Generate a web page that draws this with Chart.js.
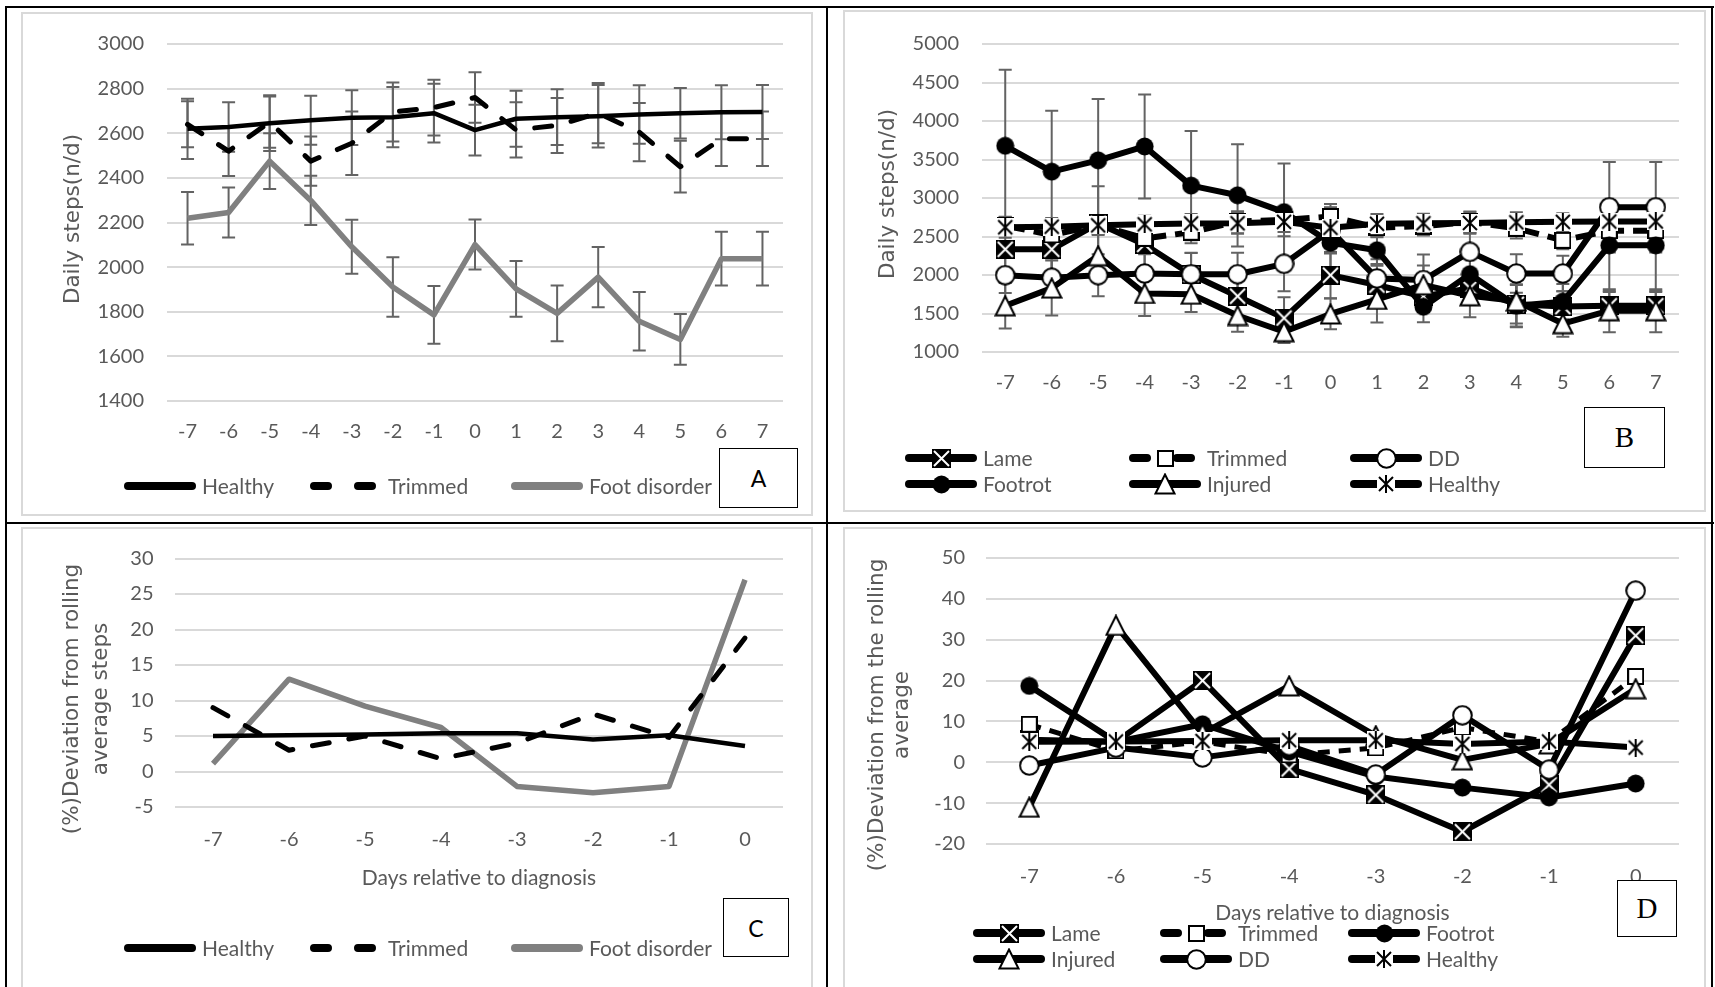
<!DOCTYPE html>
<html>
<head>
<meta charset="utf-8">
<script src="https://cdn.jsdelivr.net/npm/chart.js@4.4.1/dist/chart.umd.min.js"></script>
<style>
  html, body { margin: 0; padding: 0; background: #fff; }
  body { width: 1715px; height: 987px; position: relative; overflow: hidden; }
  .rule { position: absolute; background: #000; }
  .frame { position: absolute; border: 2px solid #d9d9d9; box-sizing: border-box; }
  canvas { position: absolute; }
  .tag { position: absolute; box-sizing: border-box; border: 1.5px solid #000; background: #fff;
         display: flex; align-items: center; justify-content: center; color: #000; }
  .sans { font-family: Lato, sans-serif; font-size: 23px; }
  .serif { font-family: "Liberation Serif", serif; font-size: 29px; }
</style>
</head>
<body>
<div class="frame" style="left:21px;top:12px;width:792px;height:504px"></div>
<div class="frame" style="left:843px;top:10px;width:863px;height:502px"></div>
<div class="frame" style="left:21px;top:527px;width:792px;height:470px"></div>
<div class="frame" style="left:843px;top:527px;width:863px;height:470px"></div>

<canvas id="panelA" width="818" height="513" style="left:8px;top:9px"></canvas>
<canvas id="panelB" width="882" height="513" style="left:829px;top:9px"></canvas>
<canvas id="panelC" width="818" height="460" style="left:8px;top:525px"></canvas>
<canvas id="panelD" width="882" height="460" style="left:829px;top:525px"></canvas>

<div class="rule" style="left:5px;top:6px;width:1709px;height:2px"></div>
<div class="rule" style="left:5px;top:522px;width:1709px;height:2px"></div>
<div class="rule" style="left:5px;top:6px;width:2px;height:981px"></div>
<div class="rule" style="left:826px;top:6px;width:2px;height:981px"></div>
<div class="rule" style="left:1711px;top:6px;width:2px;height:981px"></div>

<div class="tag sans" style="left:719px;top:448px;width:79px;height:60px">A</div>
<div class="tag serif" style="left:1584px;top:407px;width:81px;height:61px">B</div>
<div class="tag sans" style="left:723px;top:898px;width:66px;height:59px">C</div>
<div class="tag serif" style="left:1617px;top:880px;width:60px;height:57px">D</div>

<script>
// days around diagnosis
const dayLabels = ['-7', '-6', '-5', '-4', '-3', '-2', '-1', '0', '1', '2', '3', '4', '5', '6', '7'];
const preLabels = ['-7', '-6', '-5', '-4', '-3', '-2', '-1', '0'];

// daily steps, mean and error
const healthySteps = [2620, 2628, 2645, 2658, 2670, 2672, 2690, 2614, 2665, 2672, 2676, 2684, 2690, 2694, 2695];
const healthyErr = [135, 111, 125, 110, 123, 135, 132, 114, 126, 125, 140, 131, 113, 121, 121];
const trimmedSteps = [2640, 2520, 2650, 2475, 2555, 2695, 2715, 2760, 2615, 2635, 2690, 2605, 2450, 2575, 2575];
const trimmedErr = [103, 112, 115, 110, 142, 132, 125, 113, 124, 123, 135, 131, 116, 122, 122];
const footSteps = [2219, 2245, 2475, 2299, 2091, 1911, 1786, 2101, 1903, 1793, 1955, 1757, 1676, 2038, 2038];
const footErr = [118, 112, 125, 110, 121, 133, 129, 112, 125, 125, 135, 131, 114, 120, 120];

const lameSteps = [2334, 2334, 2670, 2397, 2007, 1725, 1440, 1998, 1870, 1720, 1830, 1620, 1590, 1600, 1600];
const lameErr = [420, 350, 483, 300, 280, 300, 270, 300, 250, 200, 220, 250, 200, 180, 180];
const ddSteps = [1998, 1965, 1998, 2019, 2010, 2010, 2145, 2580, 1956, 1935, 2300, 2019, 2019, 2880, 2880];
const ddErr = [231, 250, 273, 250, 280, 280, 357, 300, 250, 330, 250, 250, 230, 587, 587];
const footrotSteps = [3678, 3342, 3489, 3669, 3161, 3035, 2817, 2418, 2322, 1587, 2011, 1600, 1654, 2385, 2385];
const footrotErr = [986, 790, 797, 674, 710, 664, 630, 503, 180, 200, 240, 280, 230, 588, 588];
const injuredSteps = [1600, 1830, 2250, 1760, 1750, 1474, 1263, 1494, 1683, 1872, 1730, 1662, 1368, 1536, 1536];
const injuredErr = [295, 357, 300, 294, 230, 211, 147, 200, 300, 250, 280, 330, 170, 280, 280];

// % deviation from the rolling average
const healthyDev = [5.0, 5.1, 5.2, 5.4, 5.4, 4.5, 5.1, 3.6];
const trimmedDev = [9.0, 3.0, 5.0, 1.8, 4.0, 8.1, 4.8, 18.8];
const footDev = [1.1, 13.0, 9.2, 6.2, -2.1, -3.0, -2.1, 27.0];

const lameDev = [5.5, 5.0, 20.0, -1.6, -8.0, -17.0, -5.5, 31.0];
const trimmedDevD = [9.3, 2.8, 5.0, 1.8, 3.5, 8.5, 5.0, 21.0];
const footrotDev = [18.7, 5.0, 9.3, 2.6, -3.5, -6.2, -8.6, -5.2];
const injuredDev = [-11.0, 33.5, 7.0, 18.7, 6.5, 0.6, 4.5, 18.0];
const ddDev = [-0.8, 3.6, 1.2, 4.0, -3.0, 11.5, -1.8, 42.0];

const GREY_TEXT = '#595959';

function marker(kind) {
  const sizes = { lame: 19, trimmed: 17, dd: 21, footrot: 19, injured: 22, healthy: 18 };
  const s = sizes[kind];
  const c = document.createElement('canvas');
  c.width = s; c.height = s;
  const g = c.getContext('2d');
  const m = s / 2;
  g.lineWidth = 2;
  g.strokeStyle = '#000';
  g.fillStyle = '#fff';
  if (kind === 'lame') {
    g.fillStyle = '#000';
    g.fillRect(0, 0, s, s);
    g.strokeStyle = '#fff';
    g.beginPath();
    g.moveTo(2, 2); g.lineTo(s - 2, s - 2);
    g.moveTo(s - 2, 2); g.lineTo(2, s - 2);
    g.stroke();
  } else if (kind === 'trimmed') {
    g.fillRect(1, 1, s - 2, s - 2);
    g.strokeRect(1, 1, s - 2, s - 2);
  } else if (kind === 'dd') {
    g.beginPath(); g.arc(m, m, m - 1.2, 0, Math.PI * 2); g.fill(); g.stroke();
  } else if (kind === 'footrot') {
    g.fillStyle = '#000';
    g.beginPath(); g.arc(m, m, m - 0.5, 0, Math.PI * 2); g.fill();
  } else if (kind === 'injured') {
    g.beginPath();
    g.moveTo(m, 1.5); g.lineTo(s - 1.5, s - 1.5); g.lineTo(1.5, s - 1.5);
    g.closePath(); g.fill(); g.stroke();
  } else {
    g.fillRect(0, 0, s, s);
    g.beginPath();
    g.moveTo(2, 2); g.lineTo(s - 2, s - 2);
    g.moveTo(s - 2, 2); g.lineTo(2, s - 2);
    g.moveTo(m, 0); g.lineTo(m, s);
    g.stroke();
  }
  return c;
}

// vertical error bars with caps, drawn under the lines
const errorBars = {
  id: 'errorBars',
  beforeDatasetsDraw(chart) {
    const { ctx } = chart;
    const y = chart.scales.y;
    ctx.save();
    ctx.strokeStyle = '#636363';
    ctx.lineWidth = 2;
    chart.data.datasets.forEach((ds, i) => {
      if (!ds.errors) return;
      chart.getDatasetMeta(i).data.forEach((pt, j) => {
        const v = ds.data[j], e = ds.errors[j];
        const top = y.getPixelForValue(v + e), bot = y.getPixelForValue(v - e);
        ctx.beginPath();
        ctx.moveTo(pt.x, top); ctx.lineTo(pt.x, bot);
        ctx.moveTo(pt.x - 6.5, top); ctx.lineTo(pt.x + 6.5, top);
        ctx.moveTo(pt.x - 6.5, bot); ctx.lineTo(pt.x + 6.5, bot);
        ctx.stroke();
      });
    });
    ctx.restore();
  }
};

// legend keys laid out in fixed slots below the plot
const keyRows = {
  id: 'keyRows',
  afterDraw(chart, args, opts) {
    const { ctx } = chart;
    ctx.save();
    chart.data.datasets.forEach((ds, i) => {
      const spot = opts.spots[i];
      ctx.beginPath();
      ctx.strokeStyle = ds.borderColor;
      ctx.lineWidth = opts.lineWidth;
      ctx.lineCap = 'round';
      ctx.setLineDash(ds.keyDash || []);
      ctx.moveTo(spot[0] + 4, spot[1]);
      ctx.lineTo(spot[0] + opts.len - 4, spot[1]);
      ctx.stroke();
      ctx.setLineDash([]);
      if (ds.pointStyle instanceof HTMLCanvasElement) {
        const img = ds.pointStyle;
        ctx.drawImage(img, Math.round(spot[0] + opts.len / 2 - img.width / 2), Math.round(spot[1] - img.height / 2));
      }
      ctx.fillStyle = GREY_TEXT;
      ctx.font = '21px Lato';
      ctx.textBaseline = 'middle';
      ctx.fillText(ds.label, spot[0] + opts.len + 6, spot[1] + 1);
    });
    ctx.restore();
  }
};

// rotated value-axis caption, one column per line
const sideTitle = {
  id: 'sideTitle',
  afterDraw(chart, args, opts) {
    const { ctx } = chart;
    ctx.save();
    ctx.fillStyle = GREY_TEXT;
    ctx.font = '21.5px "DejaVu Sans"';
    ctx.textAlign = 'center';
    ctx.textBaseline = 'middle';
    opts.lines.forEach((text, i) => {
      ctx.save();
      ctx.translate(opts.x + i * opts.step, opts.y);
      ctx.rotate(-Math.PI / 2);
      ctx.fillText(text, 0, 0);
      ctx.restore();
    });
    ctx.restore();
  }
};

function panel(id, cfg) {
  const tickFont = { family: 'Lato', size: 20 };
  return new Chart(document.getElementById(id), {
    type: 'line',
    data: { labels: cfg.labels, datasets: cfg.datasets },
    options: {
      responsive: false,
      animation: false,
      devicePixelRatio: 1,
      events: [],
      layout: { padding: cfg.pad },
      plugins: {
        legend: { display: false },
        tooltip: { enabled: false },
        keyRows: cfg.key,
        sideTitle: cfg.side
      },
      scales: {
        x: {
          offset: true,
          grid: { display: false, drawTicks: false },
          border: { display: false },
          ticks: { color: GREY_TEXT, font: tickFont, padding: cfg.xPad, maxRotation: 0, autoSkip: false },
          title: {
            display: !!cfg.xTitle,
            text: cfg.xTitle,
            color: GREY_TEXT,
            font: { family: 'Lato', size: 21, lineHeight: 1.2 },
            padding: 0
          },
          afterFit: s => { s.height = cfg.xHeight; }
        },
        y: {
          min: cfg.yMin,
          max: cfg.yMax,
          ticks: {
            stepSize: cfg.step, color: GREY_TEXT, font: tickFont, padding: cfg.yPad,
            format: { useGrouping: false }
          },
          grid: { color: '#d9d9d9', lineWidth: 2, drawTicks: false },
          border: { display: false },
          afterFit: s => { s.width = cfg.yWidth; }
        }
      }
    },
    plugins: [errorBars, keyRows, sideTitle]
  });
}

function plainLine(label, data, extra) {
  return Object.assign({
    label, data,
    borderColor: '#000', backgroundColor: '#000',
    borderWidth: 4.5, borderJoinStyle: 'round',
    pointRadius: 0, tension: 0
  }, extra);
}

function markedLine(label, data, mark, extra) {
  return Object.assign({
    label, data,
    borderColor: '#000', backgroundColor: '#000',
    borderWidth: 6, borderJoinStyle: 'round',
    pointStyle: marker(mark), pointRadius: 10, tension: 0
  }, extra);
}

function drawAll() {
  panel('panelA', {
    labels: dayLabels,
    datasets: [
      plainLine('Healthy', healthySteps, { errors: healthyErr }),
      plainLine('Trimmed', trimmedSteps, { errors: trimmedErr, borderWidth: 5, borderDash: [17, 20], borderCapStyle: 'round', keyDash: [14, 30] }),
      plainLine('Foot disorder', footSteps, { errors: footErr, borderColor: '#808080', borderWidth: 5.5 })
    ],
    pad: { left: 0, top: 27.5, right: 43, bottom: 61 },
    yWidth: 159, xHeight: 60, xPad: 19, yPad: 23,
    yMin: 1400, yMax: 3000, step: 200,
    side: { lines: ['Daily steps(n/d)'], x: 65, y: 210, step: 0 },
    key: { spots: [[116, 477], [302, 477], [503, 477]], len: 72, lineWidth: 8 }
  });

  panel('panelB', {
    labels: dayLabels,
    datasets: [
      markedLine('Lame', lameSteps, 'lame', { errors: lameErr, order: 5 }),
      markedLine('Trimmed', trimmedSteps, 'trimmed', { errors: trimmedErr, order: 4, borderDash: [20, 9], keyDash: [14, 30] }),
      markedLine('DD', ddSteps, 'dd', { errors: ddErr, order: 3 }),
      markedLine('Footrot', footrotSteps, 'footrot', { errors: footrotErr, order: 2 }),
      markedLine('Injured', injuredSteps, 'injured', { errors: injuredErr, order: 1 }),
      markedLine('Healthy', healthySteps, 'healthy', { errors: healthyErr, order: 0 })
    ],
    pad: { left: 0, top: 26, right: 32, bottom: 110 },
    yWidth: 153, xHeight: 60, xPad: 19, yPad: 23,
    yMin: 1000, yMax: 5000, step: 500,
    side: { lines: ['Daily steps(n/d)'], x: 59, y: 185, step: 0 },
    key: { spots: [[76, 449], [300, 449], [521, 449], [76, 475], [300, 475], [521, 475]], len: 72, lineWidth: 8 }
  });

  panel('panelC', {
    labels: preLabels,
    datasets: [
      plainLine('Healthy', healthyDev),
      plainLine('Trimmed', trimmedDev, { borderWidth: 5, borderDash: [17, 20], borderCapStyle: 'round', keyDash: [14, 30] }),
      plainLine('Foot disorder', footDev, { borderColor: '#808080', borderWidth: 5.5 })
    ],
    pad: { left: 0, top: 29, right: 43, bottom: 94 },
    yWidth: 167, xHeight: 84, xPad: 21, yPad: 21.5,
    yMin: -5, yMax: 30, step: 5,
    xTitle: 'Days relative to diagnosis',
    side: { lines: ['(%)Deviation from rolling', 'average steps'], x: 64, y: 174, step: 29 },
    key: { spots: [[116, 423], [302, 423], [503, 423]], len: 72, lineWidth: 8 }
  });

  panel('panelD', {
    labels: preLabels,
    datasets: [
      markedLine('Lame', lameDev, 'lame', { order: 5 }),
      markedLine('Trimmed', trimmedDevD, 'trimmed', { order: 4, borderWidth: 5, borderDash: [12, 9], keyDash: [14, 30] }),
      markedLine('Footrot', footrotDev, 'footrot', { order: 3 }),
      markedLine('Injured', injuredDev, 'injured', { order: 2 }),
      markedLine('DD', ddDev, 'dd', { order: 1 }),
      markedLine('Healthy', healthyDev, 'healthy', { order: 0 })
    ],
    pad: { left: 0, top: 28, right: 32, bottom: 59 },
    yWidth: 157, xHeight: 82, xPad: 21, yPad: 21,
    yMin: -20, yMax: 50, step: 10,
    xTitle: 'Days relative to diagnosis',
    side: { lines: ['(%)Deviation from the rolling', 'average'], x: 48, y: 190, step: 25 },
    key: { spots: [[144, 408], [331, 408], [519, 408], [144, 434], [331, 434], [519, 434]], len: 72, lineWidth: 8 }
  });
}

Promise.all([
  document.fonts.load('20px Lato'),
  document.fonts.load('20px "DejaVu Sans"')
]).then(drawAll, drawAll);
</script>
</body>
</html>
